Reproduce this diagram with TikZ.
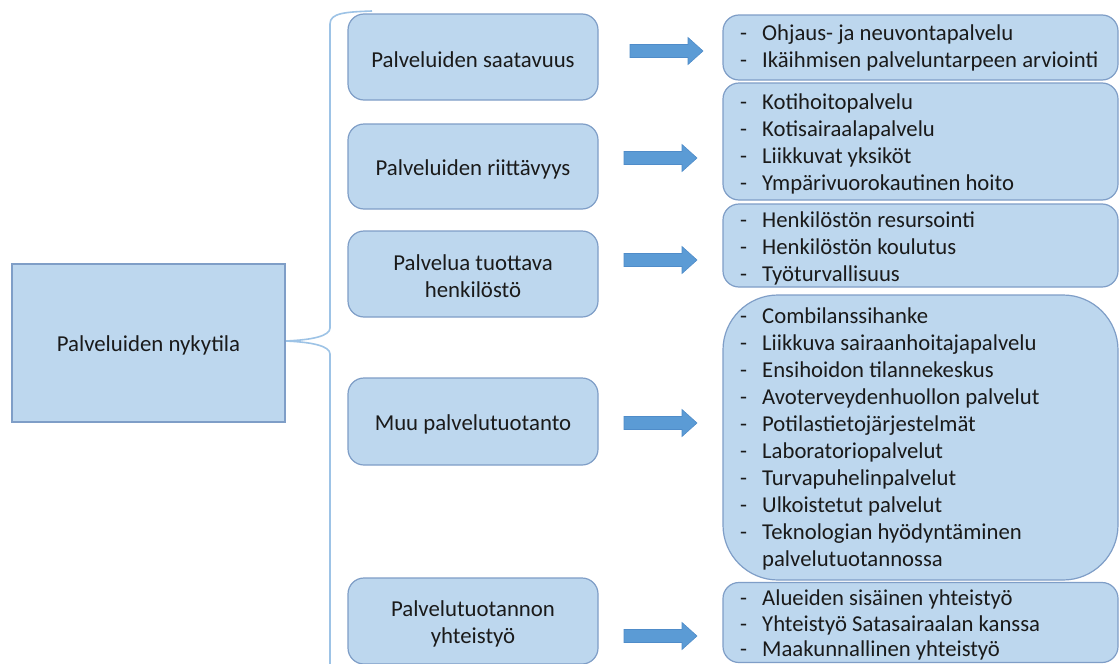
\documentclass[tikz,border=0pt]{standalone}
\usepackage{fontspec}
\setmainfont{Carlito}
\definecolor{boxfill}{HTML}{BDD7EE}
\definecolor{boxline}{HTML}{7F9EC7}
\definecolor{arrfill}{HTML}{5B9BD5}
\definecolor{arrline}{HTML}{4F8CC9}
\definecolor{bracecol}{HTML}{9DC3E6}
\definecolor{txt}{HTML}{1A1A1A}
\tikzset{
  base/.style={draw=boxline, fill=boxfill, line width=1.2pt, inner sep=0pt},
  leftbox/.style={base, minimum width=273pt, minimum height=158pt},
  midbox/.style={base, rounded corners=16pt, minimum width=250pt},
  rightbox/.style={base, rounded corners=16pt, minimum width=395pt},
  bigbox/.style={base, rounded corners=55pt, minimum width=395pt},
  lbl/.style={text=txt, font=\fontsize{22.8}{27}\selectfont, inner sep=0pt, align=center},
  list/.style={text=txt, font=\fontsize{22.7}{27}\selectfont, inner sep=0pt, anchor=west, align=left},
  blockarr/.style={fill=arrfill, draw=arrline, line width=0.6pt},
  bracestyle/.style={draw=bracecol, line width=1.6pt}
}
\newcommand{\barrow}[2]{% shaft start x, center y
  \fill[blockarr] (#1,#2-6.5) -- (#1+58,#2-6.5) -- (#1+58,#2-13.5) -- (#1+73,#2) -- (#1+58,#2+13.5) -- (#1+58,#2+6.5) -- (#1,#2+6.5) -- cycle;
}
\begin{document}
\begin{tikzpicture}[x=1pt,y=-1pt]
\useasboundingbox (0,0) rectangle (1120,664);
\fill[white] (0,0) rectangle (1120,664);

% brace
\draw[bracestyle] (372,11) .. controls (345,12) and (330,13) .. (330,24) -- (330,328)
  .. controls (330,336) and (312,340) .. (285,341)
  .. controls (312,342) and (330,346) .. (330,354) -- (330,664);

% left box
\node[leftbox] (root) at (148.5,343) {};
\node[lbl] (rootl) at ([yshift=-2.5pt]root.center) {Palveluiden nykytila};

% middle boxes
\node[midbox, minimum height=86pt] (m1) at (473,57) {};
\node[midbox, minimum height=85pt] (m2) at (473,166.5) {};
\node[midbox, minimum height=86pt] (m3) at (473,274) {};
\node[midbox, minimum height=87pt] (m4) at (473,421.5) {};
\node[midbox, minimum height=86pt] (m5) at (473,621) {};
\node[lbl] (m1l) at ([yshift=-2.5pt]m1.center) {Palveluiden saatavuus};
\node[lbl] (m2l) at ([yshift=-2.5pt]m2.center) {Palveluiden riittävyys};
\node[lbl] (m3l) at ([yshift=-2.5pt]m3.center) {Palvelua tuottava\\henkilöstö};
\node[lbl] (m4l) at ([yshift=-2.5pt]m4.center) {Muu palvelutuotanto};
\node[lbl] (m5l) at ([yshift=-2.5pt]m5.center) {Palvelutuotannon\\yhteistyö};

% right boxes
\node[rightbox, minimum height=65pt] (r1) at (920.5,47.5) {};
\node[rightbox, minimum height=117pt] (r2) at (920.5,141.5) {};
\node[rightbox, minimum height=83pt] (r3) at (920.5,245.5) {};
\node[bigbox, minimum height=285pt] (r4) at (920.5,437.5) {};
\node[rightbox, minimum height=80pt] (r5) at (920.5,622.5) {};

\node[list] (t1) at (740,48.5) {\begin{tabular}{@{}p{22pt}@{}l@{}}
- & Ohjaus- ja neuvontapalvelu\\
- & Ikäihmisen palveluntarpeen arviointi
\end{tabular}};
\node[list] (t2) at (740,145) {\begin{tabular}{@{}p{22pt}@{}l@{}}
- & Kotihoitopalvelu\\
- & Kotisairaalapalvelu\\
- & Liikkuvat yksiköt\\
- & Ympärivuorokautinen hoito
\end{tabular}};
\node[list] (t3) at (740,249) {\begin{tabular}{@{}p{22pt}@{}l@{}}
- & Henkilöstön resursointi\\
- & Henkilöstön koulutus\\
- & Työturvallisuus
\end{tabular}};
\node[list] (t4) at (740,439.5) {\begin{tabular}{@{}p{22pt}@{}l@{}}
- & Combilanssihanke\\
- & Liikkuva sairaanhoitajapalvelu\\
- & Ensihoidon tilannekeskus\\
- & Avoterveydenhuollon palvelut\\
- & Potilastietojärjestelmät\\
- & Laboratoriopalvelut\\
- & Turvapuhelinpalvelut\\
- & Ulkoistetut palvelut\\
- & Teknologian hyödyntäminen\\
  & palvelutuotannossa
\end{tabular}};
\node[list] (t5) at (740,626) {\renewcommand{\arraystretch}{0.95}\begin{tabular}{@{}p{22pt}@{}l@{}}
- & Alueiden sisäinen yhteistyö\\
- & Yhteistyö Satasairaalan kanssa\\
- & Maakunnallinen yhteistyö
\end{tabular}};

% block arrows
\barrow{630}{51}
\barrow{624}{158}
\barrow{624}{260}
\barrow{624}{423}
\barrow{624}{636}
\end{tikzpicture}
\end{document}
